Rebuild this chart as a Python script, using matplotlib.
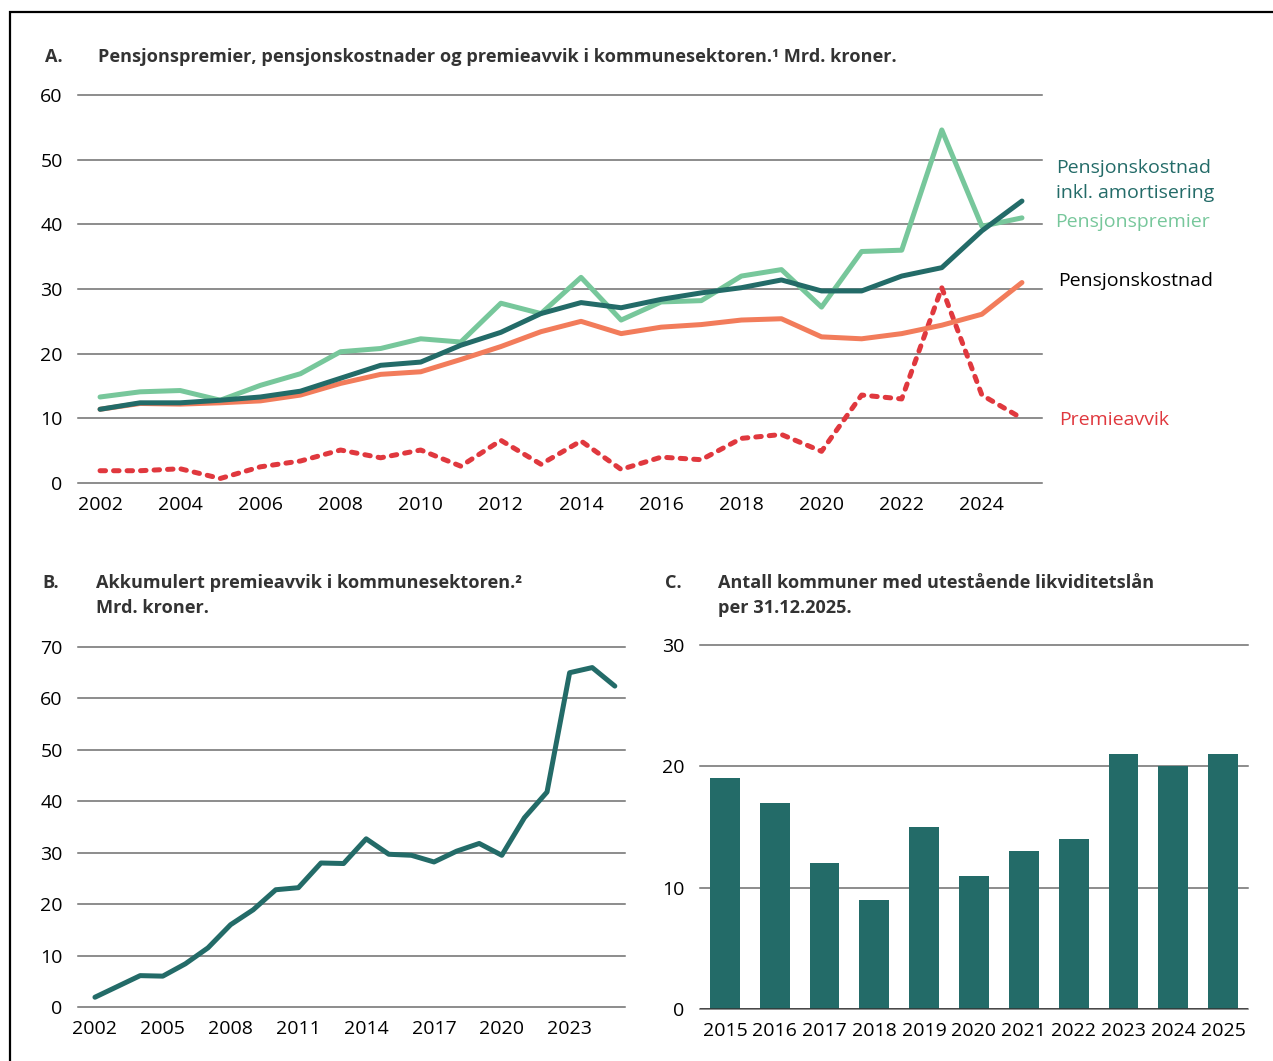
import matplotlib.pyplot as plt
from matplotlib.patches import Rectangle
import numpy as np

plt.rcParams['font.family'] = ['Open Sans', 'DejaVu Sans']

# =========================
# DATA
# =========================

aar_a = list(range(2002, 2026))

premier = [13.3, 14.1, 14.3, 12.8, 15.1, 16.9, 20.3, 20.8, 22.3, 21.8, 27.8, 26.2,
           31.8, 25.2, 28.0, 28.2, 32.0, 33.0, 27.2, 35.8, 36.0, 54.6, 39.7, 41.0]

kostnad_amort = [11.4, 12.4, 12.4, 12.8, 13.3, 14.2, 16.2, 18.2, 18.7, 21.3, 23.3, 26.2,
                 27.9, 27.1, 28.4, 29.4, 30.2, 31.4, 29.7, 29.7, 32.0, 33.3, 39.0, 43.6]

kostnad = [11.4, 12.3, 12.2, 12.4, 12.7, 13.6, 15.4, 16.8, 17.2, 19.1, 21.1, 23.4,
           25.0, 23.1, 24.1, 24.5, 25.2, 25.4, 22.6, 22.3, 23.1, 24.4, 26.1, 31.0]

avvik = [1.9, 1.9, 2.2, 0.7, 2.5, 3.4, 5.1, 3.9, 5.1, 2.6, 6.6, 2.9,
         6.5, 2.1, 4.0, 3.6, 6.9, 7.5, 4.9, 13.6, 13.0, 30.2, 13.6, 10.0]

aar_b = list(range(2002, 2026))
akkumulert = [1.9, 4.0, 6.1, 6.0, 8.4, 11.5, 16.0, 18.9, 22.8, 23.2, 28.0, 27.9,
              32.7, 29.7, 29.5, 28.2, 30.3, 31.8, 29.5, 36.8, 41.8, 65.0, 66.0, 62.4]

aar_c = ["2015", "2016", "2017", "2018", "2019", "2020", "2021", "2022", "2023", "2024", "2025"]
antall = [19, 17, 12, 9, 15, 11, 13, 14, 21, 20, 21]

# Colores
GRONN = "#77C79B"
MORK = "#236B68"
ORANSJE = "#F27C5B"
ROD = "#E0383E"
TEKST = "#333333"
GRID = "#6E6E6E"

fig = plt.figure(figsize=(12.73, 10.61), dpi=100)

# Marco negro
fig.patches.append(Rectangle((9.5 / 1273, -0.05), 1.1, 1 - 12 / 1061 + 0.05,
                             transform=fig.transFigure, fill=False,
                             edgecolor="black", linewidth=1.6))


def estilo(ax, ticks):
    for s in ax.spines.values():
        s.set_visible(False)
    for t in ticks:
        ax.axhline(t, color=GRID, linewidth=1.1, zorder=0, clip_on=False)
    ax.set_yticks(ticks)
    ax.tick_params(length=0, labelsize=14, pad=11, colors="black")
    ax.tick_params(axis="x", pad=9)


# =========================
# PANEL A
# =========================

ax1 = fig.add_axes([78 / 1273, 1 - 483 / 1061, 964 / 1273, 388 / 1061])
ax1.set_xlim(2001.45, 2025.5)
ax1.set_ylim(0, 60)
estilo(ax1, [0, 10, 20, 30, 40, 50, 60])
ax1.set_xticks(list(range(2002, 2026, 2)))

ax1.plot(aar_a, avvik, color=ROD, linewidth=3.6, linestyle=(0, (1.1, 1.6)),
         dash_capstyle="round", solid_capstyle="round", clip_on=False, zorder=3)
ax1.plot(aar_a, kostnad, color=ORANSJE, linewidth=3.6, solid_capstyle="round",
         solid_joinstyle="round", clip_on=False, zorder=3)
ax1.plot(aar_a, premier, color=GRONN, linewidth=3.6, solid_capstyle="round",
         solid_joinstyle="round", clip_on=False, zorder=3)
ax1.plot(aar_a, kostnad_amort, color=MORK, linewidth=3.6, solid_capstyle="round",
         solid_joinstyle="round", clip_on=False, zorder=4)

fig.text(1056 / 1273, 1 - 168 / 1061, "Pensjonskostnad", color=MORK, fontsize=14, va="center")
fig.text(1056 / 1273, 1 - 193 / 1061, "inkl. amortisering", color=MORK, fontsize=14, va="center")
fig.text(1055 / 1273, 1 - 222 / 1061, "Pensjonspremier", color=GRONN, fontsize=14, va="center")
fig.text(1058 / 1273, 1 - 281 / 1061, "Pensjonskostnad", color="black", fontsize=14, va="center")
fig.text(1059 / 1273, 1 - 420 / 1061, "Premieavvik", color=ROD, fontsize=14, va="center")

fig.text(45 / 1273, 1 - 57 / 1061, "A.", color=TEKST, fontsize=13.1, weight="bold", va="center")
fig.text(98 / 1273, 1 - 57 / 1061,
         "Pensjonspremier, pensjonskostnader og premieavvik i kommunesektoren.¹ Mrd. kroner.",
         color=TEKST, fontsize=13.1, weight="bold", va="center")

# =========================
# PANEL B
# =========================

ax2 = fig.add_axes([78 / 1273, 1 - 1007 / 1061, 547 / 1273, 360 / 1061])
ax2.set_xlim(2001.25, 2025.45)
ax2.set_ylim(0, 70)
estilo(ax2, [0, 10, 20, 30, 40, 50, 60, 70])
ax2.set_xticks(list(range(2002, 2025, 3)))
ax2.plot(aar_b, akkumulert, color=MORK, linewidth=3.6, solid_capstyle="round",
         solid_joinstyle="round", clip_on=False, zorder=3)

fig.text(42 / 1273, 1 - 583 / 1061, "B.", color=TEKST, fontsize=13.1, weight="bold", va="center")
fig.text(96 / 1273, 1 - 583 / 1061, "Akkumulert premieavvik i kommunesektoren.²",
         color=TEKST, fontsize=13.1, weight="bold", va="center")
fig.text(96 / 1273, 1 - 608 / 1061, "Mrd. kroner.",
         color=TEKST, fontsize=13.1, weight="bold", va="center")

# =========================
# PANEL C
# =========================

ax3 = fig.add_axes([700 / 1273, 1 - 1009 / 1061, 548 / 1273, 364 / 1061])
ax3.set_xlim(-0.5, 10.5)
ax3.set_ylim(0, 30)
estilo(ax3, [0, 10, 20, 30])
ax3.bar(np.arange(len(aar_c)), antall, width=0.6, color=MORK, zorder=2)
ax3.axhline(0, color="#333333", linewidth=1.1, zorder=3)
ax3.set_xticks(np.arange(len(aar_c)))
ax3.set_xticklabels(aar_c)
ax3.tick_params(axis="x", pad=9)

fig.text(665 / 1273, 1 - 583 / 1061, "C.", color=TEKST, fontsize=13.1, weight="bold", va="center")
fig.text(718 / 1273, 1 - 583 / 1061, "Antall kommuner med utestående likviditetslån",
         color=TEKST, fontsize=13.1, weight="bold", va="center")
fig.text(718 / 1273, 1 - 608 / 1061, "per 31.12.2025.",
         color=TEKST, fontsize=13.1, weight="bold", va="center")

fig.savefig("out.png", dpi=100)
plt.close()
